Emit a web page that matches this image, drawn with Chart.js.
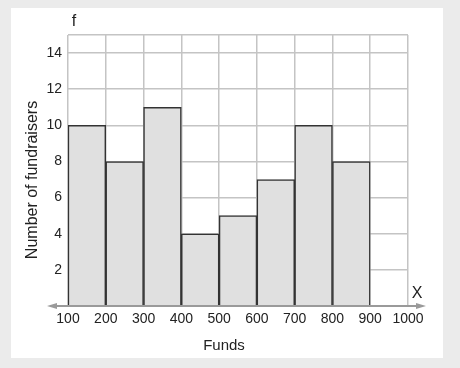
<!DOCTYPE html>
<html>
<head>
<meta charset="utf-8">
<script src="https://cdn.jsdelivr.net/npm/chart.js@4"></script>
<style>
  html, body { margin: 0; padding: 0; background: #ebebeb; }
  canvas { display: block; }
</style>
</head>
<body>
<canvas id="histograma" width="460" height="368"></canvas>
<script>
// dados do histograma
const limites = [100, 200, 300, 400, 500, 600, 700, 800, 900, 1000]
const frequencias = [10, 8, 11, 4, 5, 7, 10, 8]
const ticksY = [0, 2, 4, 6, 8, 10, 12, 14, 15]

// cada barra fica no meio do intervalo
const pontos = frequencias.map((f, i) => ({ x: (limites[i] + limites[i + 1]) / 2, y: f }))

const familia = '"Liberation Sans", Arial, sans-serif'

// fundo cinza + painel branco
const fundo = {
    id: 'fundo',
    beforeDraw(chart) {
        const c = chart.ctx
        c.save()
        c.fillStyle = '#ebebeb'
        c.fillRect(0, 0, chart.width, chart.height)
        c.fillStyle = '#ffffff'
        c.fillRect(11, 8, 432, 350)
        c.restore()
    }
}

// eixo x com setas, letras f / X e titulos
const eixos = {
    id: 'eixos',
    afterDraw(chart) {
        const c = chart.ctx
        const a = chart.chartArea
        const y = a.bottom
        c.save()
        c.strokeStyle = '#9a9a9a'
        c.fillStyle = '#9a9a9a'
        c.lineWidth = 2
        c.beginPath()
        c.moveTo(52, y)
        c.lineTo(421, y)
        c.stroke()
        c.beginPath()
        c.moveTo(47, y); c.lineTo(57, y - 3); c.lineTo(57, y + 3); c.closePath()
        c.fill()
        c.beginPath()
        c.moveTo(426, y); c.lineTo(416, y - 3); c.lineTo(416, y + 3); c.closePath()
        c.fill()
        c.fillStyle = '#222'
        c.font = '16px ' + familia
        c.textAlign = 'center'
        c.textBaseline = 'middle'
        c.fillText('f', 74, 22)
        c.fillText('X', 417, 294)
        // titulos dos eixos
        c.font = '15px ' + familia
        c.fillText('Funds', 224, 346)
        c.translate(33, 180)
        c.rotate(-Math.PI / 2)
        c.font = '16px ' + familia
        c.fillText('Number of fundraisers', 0, 0)
        c.restore()
    }
}

const ctx = document.getElementById('histograma')
const fonte = { family: familia, size: 14 }

const grafico = new Chart(ctx, {
    type: 'bar',
    data: {
        datasets: [{
            data: pontos,
            backgroundColor: '#e0e0e0',
            borderColor: '#333333',
            borderWidth: 1.5,
            barPercentage: 1,
            categoryPercentage: 1,
            borderSkipped: 'bottom'
        }]
    },
    options: {
        responsive: false,
        animation: false,
        layout: { padding: { left: 20, top: 35, right: 52, bottom: 10 } },
        plugins: { legend: { display: false }, tooltip: { enabled: false } },
        scales: {
            x: {
                type: 'linear',
                min: 100,
                max: 1000,
                offset: false,
                afterBuildTicks: s => { s.ticks = limites.map(v => ({ value: v })) },
                afterFit: s => { s.height = 52 },
                grid: { color: '#c4c4c4', lineWidth: 1.5, drawTicks: false, offset: false },
                border: { display: false },
                ticks: { color: '#222', font: fonte, padding: 5, maxRotation: 0, autoSkip: false, callback: v => String(v) }
            },
            y: {
                min: 0,
                max: 15,
                afterBuildTicks: s => { s.ticks = ticksY.map(v => ({ value: v })) },
                afterFit: s => { s.width = 48 },
                grid: { color: '#c4c4c4', lineWidth: 1.5, drawTicks: false },
                border: { display: false },
                ticks: {
                    color: '#222', font: fonte, padding: 6, autoSkip: false,
                    callback: v => (v === 0 || v === 15) ? '' : v
                }
            }
        }
    },
    plugins: [fundo, eixos]
})
</script>
</body>
</html>
